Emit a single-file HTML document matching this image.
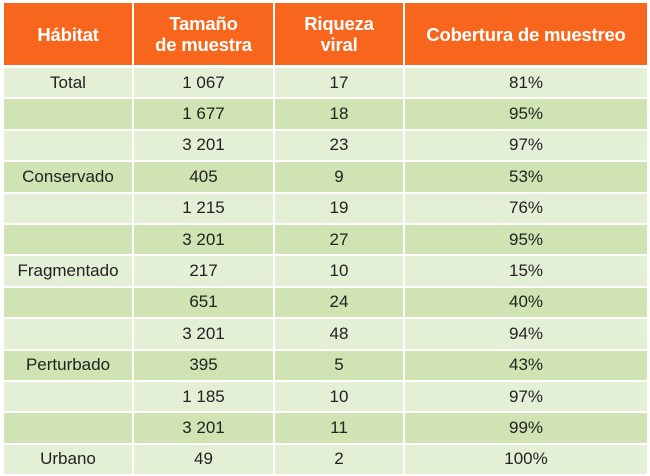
<!DOCTYPE html>
<html><head><meta charset="utf-8"><style>
body{margin:0;width:650px;height:476px;background:#fff;overflow:hidden;font-family:"Liberation Sans",sans-serif;}
.c{position:absolute;display:flex;align-items:center;justify-content:center;text-align:center;box-sizing:border-box;}
.h{background:#f7661c;color:#fff;font-weight:bold;font-size:18.5px;line-height:21px;letter-spacing:-0.2px;}
.d{color:#222;font-size:17px;}
</style></head><body>
<div id="t"></div>
<script>
const headers=["Hábitat","Tamaño<br>de muestra","Riqueza<br>viral","Cobertura de muestreo"];
const habitat=["Total","","","Conservado","","","Fragmentado","","","Perturbado","","","Urbano"];
const sampleSize=["1 067","1 677","3 201","405","1 215","3 201","217","651","3 201","395","1 185","3 201","49"];
const richness=["17","18","23","9","19","27","10","24","48","5","10","11","2"];
const coverage=["81%","95%","97%","53%","76%","95%","15%","40%","94%","43%","97%","99%","100%"];
const colX=[4,134,275,405], colW=[128,139,128,242];
const colNames=["habitat","sample-size","viral-richness","sampling-coverage"];
const t=document.getElementById('t');
headers.forEach((h,i)=>{
 const d=document.createElement('div');
 d.className='c h';
 d.style.cssText+=`left:${colX[i]}px;top:3px;width:${colW[i]}px;height:62px;`;
 d.innerHTML=h;
 
 
 t.appendChild(d);
});
const cols=[habitat,sampleSize,richness,coverage];
for(let r=0;r<habitat.length;r++){
 const top=68+r*31.4;
 cols.forEach((col,i)=>{
  const d=document.createElement('div');
  d.className='c d';
  d.style.cssText+=`left:${colX[i]}px;top:${top}px;width:${colW[i]}px;height:29.4px;background:${r%2?'#cfe4b2':'#e4f0d6'};`;
  d.textContent=col[r];
  
  
  t.appendChild(d);
 });
}
</script>
</body></html>
